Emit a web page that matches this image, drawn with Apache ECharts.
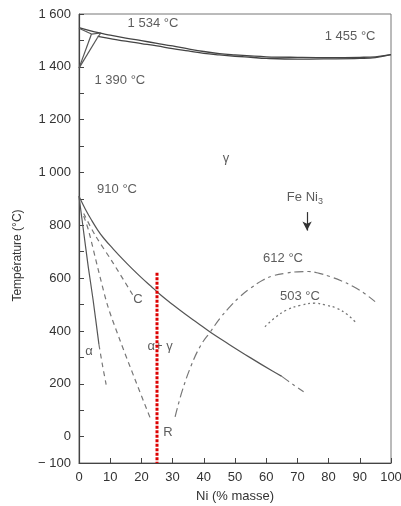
<!DOCTYPE html>
<html><head><meta charset="utf-8">
<script src="https://cdn.jsdelivr.net/npm/echarts@6/dist/echarts.min.js"></script>
<style>html,body{margin:0;padding:0;background:#fff}#c{width:401px;height:506px}</style>
</head><body><div id="c"></div>
<script>
// Curves of the Fe–Ni diagram: [Ni %, temperature °C]
const liquidus = [[0,1548],[5,1532],[10,1520],[15,1509],[20,1499],[25,1489],[30,1479],[35,1468],[40,1458],[45,1450],[50,1445],[55,1441],[60,1438],[70,1436],[80,1435],[90,1436],[95,1438],[100,1446]];
const solidus = [[6,1515],[10,1507],[15,1497],[20,1488],[25,1479],[30,1469],[35,1460],[40,1451],[45,1445],[50,1440],[55,1436],[60,1432],[70,1429],[80,1430],[90,1432],[95,1435],[100,1446]];
const deltaSolidus = [[0,1546],[4,1524]];
const deltaLeft = [[0,1395],[4,1524]];
const deltaRight = [[0,1395],[6,1512]];
const peritectic = [[4,1524],[7,1528],[6,1512]];
const gammaSolvus = [[0,910],[2,862],[4,820],[6,782],[8,750],[11,710],[14,672],[17,636],[20,602],[23,570],[26,538],[30,500],[34,464],[38,430],[42,396],[48,350],[55,298],[62,248],[65,228]];
const gammaSolvusEnd = [[65,228],[68.5,198],[72,170]];
const alphaSolvus = [[0,910],[1.4,783],[3,640],[4.5,519],[6.4,348]];
const alphaSolvusEnd = [[6.4,348],[7.5,272],[8.7,197]];
const msLine = [[1.5,835],[3,783],[6,640],[9.2,495],[13.1,366],[18,215],[22.8,71]];
const cLine = [[1.5,845],[5.1,764],[11,656],[17.4,533]];
const asLine = [[30.8,75],[33,170],[36,270],[39,345],[42,395],[45.2,448],[48.4,492],[51.6,530],[55,562],[59,593],[62.5,610],[66.5,619],[70,624],[73.5,625],[77,618],[80.4,606],[84,590],[87.9,568],[91.5,542],[94.9,511]];
const orderLine = [[59.6,416],[63,452],[66.5,479],[71,497],[75.6,505],[79,498],[82.6,486],[86,462],[89,429]];
const markerLine = [[25,620],[25,-100]];
const arrowFrom = [73.1,850];
const arrowTo = [73.1,780];
// Annotations: [text, Ni %, °C]
const annotations = [
  ['1 534 °C',23.7,1563],['1 455 °C',86.9,1514],['1 390 °C',13.1,1347],
  ['910 °C',12.2,937],['γ',47.1,1055],['612 °C',65.4,676],['503 °C',70.8,529],
  ['C',18.9,518],['α+ γ',26,340],['α',3.2,321],['R',28.5,14]
];
const feNi3 = ['{a|Fe Ni}{s|3}',72.4,907];

const FONT = '"Liberation Sans", Arial, sans-serif';
function fmtT(v){
  if (v === -100) return '\u2212 100';
  if (v % 200 !== 0) return '';
  if (v >= 1000) return Math.floor(v/1000) + ' ' + String(v%1000).padStart(3,'0');
  return String(v);
}
function ln(data, style, smooth, z){
  return {type:'line', data:data, showSymbol:false, symbol:'none', smooth:smooth||false,
    lineStyle:style, z:z||2, silent:true, animation:false};
}
const solid = {color:'#555', width:1.2, type:'solid'};
const solidDark = {color:'#444', width:1.3, type:'solid'};
const dashed = {color:'#777', width:1.2, type:[5,4]};
const dashDot = {color:'#777', width:1.2, type:[9,4,3,4]};
const dotted = {color:'#777', width:1.3, type:[2,3]};

const chart = echarts.init(document.getElementById('c'), null, {renderer:'canvas'});
chart.setOption({
  animation:false,
  backgroundColor:'#fff',
  grid:{left:79, right:10, top:14, bottom:43, containLabel:false, outerBoundsMode:'none',
    show:true, borderColor:'#777', borderWidth:1},
  xAxis:{type:'value', min:0, max:100, interval:10,
    name:'Ni (% masse)', nameLocation:'middle', nameGap:27,
    nameTextStyle:{fontFamily:FONT, fontSize:13, color:'#333'},
    axisLine:{show:true, onZero:false, lineStyle:{color:'#444', width:1.2}},
    axisTick:{show:true, inside:true, length:5, lineStyle:{color:'#444'}},
    axisLabel:{fontFamily:FONT, fontSize:13, color:'#333', margin:8},
    splitLine:{show:false}},
  yAxis:{type:'value', min:-100, max:1600, interval:100,
    name:'Température (°C)', nameLocation:'middle', nameGap:55,
    nameTextStyle:{fontFamily:FONT, fontSize:12, color:'#333', padding:[0,34,0,0]},
    axisLine:{show:true, onZero:false, lineStyle:{color:'#444', width:1.2}},
    axisTick:{show:true, inside:true, length:5, lineStyle:{color:'#444'}},
    axisLabel:{fontFamily:FONT, fontSize:13, color:'#333', margin:8, formatter:fmtT},
    splitLine:{show:false}},
  series:[
    ln(liquidus, solidDark, 0.4),
    ln(solidus, solidDark, 0.4),
    ln(deltaSolidus, solid),
    ln(deltaLeft, solid),
    ln(deltaRight, solid),
    ln(peritectic, solid),
    ln(gammaSolvus, solid, 0.4),
    ln(gammaSolvusEnd, dashDot, 0.3),
    ln(alphaSolvus, solid, 0.3),
    ln(alphaSolvusEnd, dashed, 0.3),
    ln(msLine, dashed, 0.3),
    ln(cLine, dashed, 0.3),
    ln(asLine, dashDot, 0.4),
    ln(orderLine, dotted, 0.4),
    ln(markerLine, {color:'#dd0000', width:3, type:[3,1.5]}, false, 10),
    {type:'line', data:[], silent:true, animation:false,
      markLine:{silent:true, symbol:['none','arrow'], symbolSize:[7,9], label:{show:false},
        lineStyle:{color:'#333', width:1.2, type:'solid'},
        data:[[{coord:arrowFrom},{coord:arrowTo}]]}},
    {type:'scatter', symbolSize:0, silent:true, animation:false, z:5,
      data: annotations.map(a => ({value:[a[1],a[2]], label:{formatter:a[0]}})),
      label:{show:true, position:'inside', fontFamily:FONT, fontSize:13, color:'#333'}},
    {type:'scatter', symbolSize:0, silent:true, animation:false, z:5,
      data:[{value:[feNi3[1],feNi3[2]]}],
      label:{show:true, position:'inside', formatter:feNi3[0],
        rich:{a:{fontFamily:FONT, fontSize:13, color:'#333', lineHeight:18},
              s:{fontFamily:FONT, fontSize:9, color:'#333', lineHeight:18, verticalAlign:'bottom', padding:[8,0,0,0]}}}}
  ]
});
</script></body></html>
